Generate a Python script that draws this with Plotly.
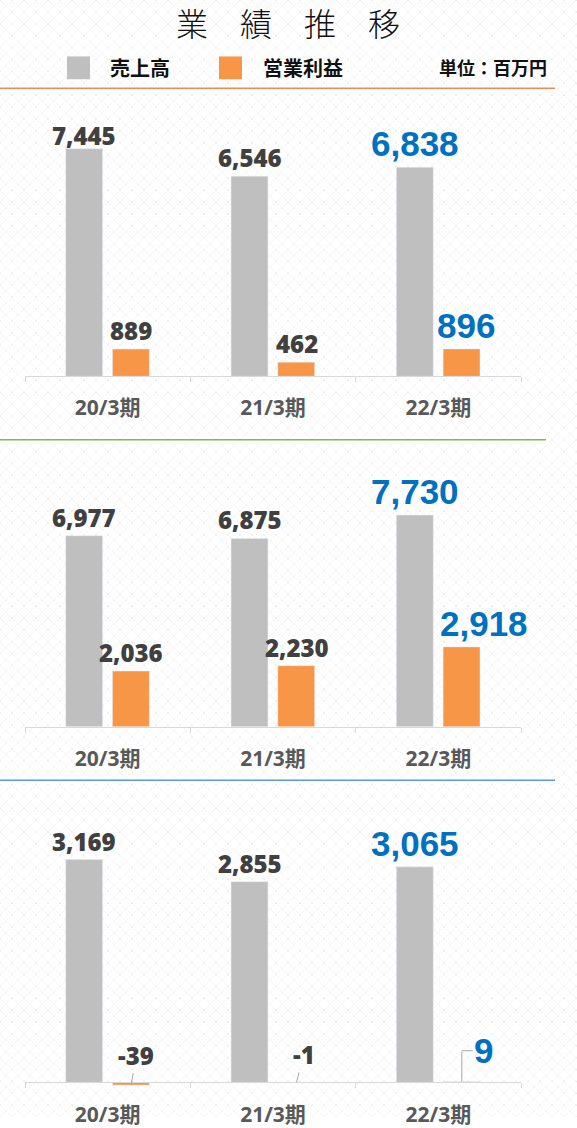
import base64
import plotly.graph_objects as go

# ---------------- data ----------------
categories = ["20/3期", "21/3期", "22/3期"]
sales_a = [7445, 6546, 6838]
profit_a = [889, 462, 896]
sales_b = [6977, 6875, 7730]
profit_b = [2036, 2230, 2918]
sales_c = [3169, 2855, 3065]
profit_c = [-39, -1, 9]

series_names = ["売上高", "営業利益"]
title_text = "業　績　推　移"
unit_text = "単位：百万円"

panels = [(sales_a, profit_a), (sales_b, profit_b), (sales_c, profit_c)]

# ---------------- style ----------------
W, H = 577, 1128
GRAY = "#BFBFBF"
ORANGE = "#F79646"
BLUE = "#0070C0"
DARK = "#404040"
AXIS = "#D9D9D9"
LEADER = "#A6A6A6"
SEP_COLORS = ["#EE8A4E", "#7DBE45", "#5B9BD5"]
SEP_Y = [89, 444, 788]
SEP_X1 = [555, 546, 555]

def fy(p):
    return 1 - p / H

def fx(p):
    return p / W

# baseline / top / bottom pixel of each panel and the value range
geo = [
    dict(base=380, top=100, bottom=380, rng=[0, 9070]),
    dict(base=734, top=453, bottom=734, rng=[0, 10155]),
    dict(base=1093, top=801, bottom=1097, rng=[-56, 4113]),
]

BAR_W = 0.223
OFF_GRAY = -0.2536
OFF_ORANGE = 0.029
SHIFT = 23.5  # px from category centre to bar centre

# manual label nudges (panel, series, category) -> (dx, dy) in px
nudges = {(0, 0, 0): (0, -5), (0, 1, 2): (4, 0), (1, 1, 2): (22, 0)}

dark_font = dict(family="Open Sans, Noto Sans CJK JP", size=24, color=DARK, weight=800)
blue_font = dict(family="Liberation Sans, Arial", size=35, color=BLUE, weight="bold")
cat_font = dict(family="Open Sans, Noto Sans CJK JP", size=21, color="#595959", weight="bold")

fig = go.Figure()
annotations = []
shapes = []

for k, (sales, profit) in enumerate(panels):
    sfx = "" if k == 0 else str(k + 1)
    xa, ya = "x" + sfx, "y" + sfx
    fig.add_trace(go.Bar(x=categories, y=sales, name=series_names[0], marker_color=GRAY,
                         width=BAR_W, offset=OFF_GRAY, xaxis=xa, yaxis=ya, showlegend=False,
                         hoverinfo="skip"))
    fig.add_trace(go.Bar(x=categories, y=profit, name=series_names[1], marker_color=ORANGE,
                         width=BAR_W, offset=OFF_ORANGE, xaxis=xa, yaxis=ya, showlegend=False,
                         hoverinfo="skip"))
    g = geo[k]
    xaxis = dict(domain=[fx(25), fx(521)], type="category", categoryorder="array",
                 categoryarray=categories, range=[-0.5, len(categories) - 0.5],
                 autorange=False, showline=True, linecolor=AXIS, linewidth=1,
                 ticks="outside", tickson="boundaries", ticklen=5, tickcolor=AXIS, tickwidth=1,
                 showgrid=False, zeroline=False, tickfont=cat_font, ticklabelstandoff=13,
                 fixedrange=True)
    if g["base"] != g["bottom"]:
        xaxis.update(anchor="free", position=fy(g["base"]))
    else:
        xaxis.update(anchor=ya)
    yaxis = dict(domain=[fy(g["bottom"]), fy(g["top"])], range=g["rng"], autorange=False,
                 visible=False, fixedrange=True, anchor=xa)
    fig.update_layout(**{"xaxis" + sfx: xaxis, "yaxis" + sfx: yaxis})

    last = len(categories) - 1
    for i, cat in enumerate(categories):
        for s, (vals, sh) in enumerate(((sales, -SHIFT), (profit, SHIFT))):
            v = vals[i]
            blue = i == last
            font = blue_font if blue else dark_font
            dx, dy = nudges.get((k, s, i), (0, 0))
            txt = f"{v:,}"
            if abs(v) >= 100:
                annotations.append(dict(x=cat, y=v, xref=xa, yref=ya, text=txt, showarrow=False,
                                        xshift=sh + dx, yshift=(2 if blue else 0) + dy,
                                        yanchor="bottom", font=font))
            elif v < 0:
                ax, ay = (5, -30) if i == 0 else (7, -28)
                annotations.append(dict(x=cat, y=v, xref=xa, yref=ya, text=txt, showarrow=True,
                                        arrowhead=0, arrowwidth=1, arrowcolor=LEADER,
                                        ax=ax, ay=ay, xshift=sh, font=font))
            else:
                # elbow leader: vertical stem then short horizontal to the label
                annotations.append(dict(x=cat, y=v, xref=xa, yref=ya, text=" ", showarrow=True,
                                        arrowhead=0, arrowwidth=1, arrowcolor=LEADER,
                                        ax=0, ay=-31, xshift=sh, font=dict(size=1),
                                        borderpad=0))
                annotations.append(dict(x=cat, y=v, xref=xa, yref=ya, text=txt, showarrow=True,
                                        arrowhead=0, arrowwidth=1, arrowcolor=LEADER,
                                        ax=22, ay=0, xshift=sh, yshift=31, font=font))

# separators
for c, yy, x1 in zip(SEP_COLORS, SEP_Y, SEP_X1):
    shapes.append(dict(type="line", xref="paper", yref="paper", x0=0, x1=fx(x1),
                       y0=fy(yy), y1=fy(yy), line=dict(color=c, width=1.5)))

# legend squares
for x0, col in ((67, GRAY), (219, ORANGE)):
    shapes.append(dict(type="rect", xref="paper", yref="paper", x0=fx(x0), x1=fx(x0 + 23),
                       y0=fy(80), y1=fy(57), fillcolor=col, line=dict(width=0)))

leg_font = dict(family="Noto Sans CJK JP", size=20, color="#111111", weight="bold")
annotations.append(dict(x=fx(108), y=fy(68), xref="paper", yref="paper", text=series_names[0],
                        showarrow=False, xanchor="left", yanchor="middle", font=leg_font))
annotations.append(dict(x=fx(261), y=fy(68), xref="paper", yref="paper", text=series_names[1],
                        showarrow=False, xanchor="left", yanchor="middle", font=leg_font))
annotations.append(dict(x=fx(549), y=fy(68), xref="paper", yref="paper", text=unit_text,
                        showarrow=False, xanchor="right", yanchor="middle",
                        font=dict(family="Noto Sans CJK JP", size=18, color="#111111",
                                  weight="bold")))
annotations.append(dict(x=fx(288), y=fy(22), xref="paper", yref="paper", text=title_text,
                        showarrow=False, xanchor="center", yanchor="middle",
                        font=dict(family="Noto Sans CJK JP", size=32, color="#111111",
                                  weight=300)))

# faint crosshatch background
svg = (f'<svg xmlns="http://www.w3.org/2000/svg" width="{W}" height="{H}">'
       '<defs><pattern id="p" width="12" height="12" patternUnits="userSpaceOnUse">'
       '<path d="M0,0 L12,12 M12,0 L0,12" stroke="#ECECEC" stroke-width="1" '
       'stroke-dasharray="1.5,1.5"/></pattern></defs>'
       f'<rect width="{W}" height="{H}" fill="#FFFFFF"/>'
       f'<rect width="{W}" height="{H}" fill="url(#p)"/></svg>')
uri = "data:image/svg+xml;base64," + base64.b64encode(svg.encode()).decode()

fig.update_layout(
    width=W, height=H, margin=dict(l=0, r=0, t=0, b=0),
    paper_bgcolor="#FFFFFF", plot_bgcolor="rgba(0,0,0,0)",
    barmode="overlay", showlegend=False,
    annotations=annotations, shapes=shapes,
    images=[dict(source=uri, xref="paper", yref="paper", x=0, y=1, sizex=1, sizey=1,
                 xanchor="left", yanchor="top", sizing="stretch", layer="below")],
)

fig.write_html("out.html", config={"displayModeBar": False},
               post_script="document.body.style.margin='0';document.body.style.overflow='hidden';")
